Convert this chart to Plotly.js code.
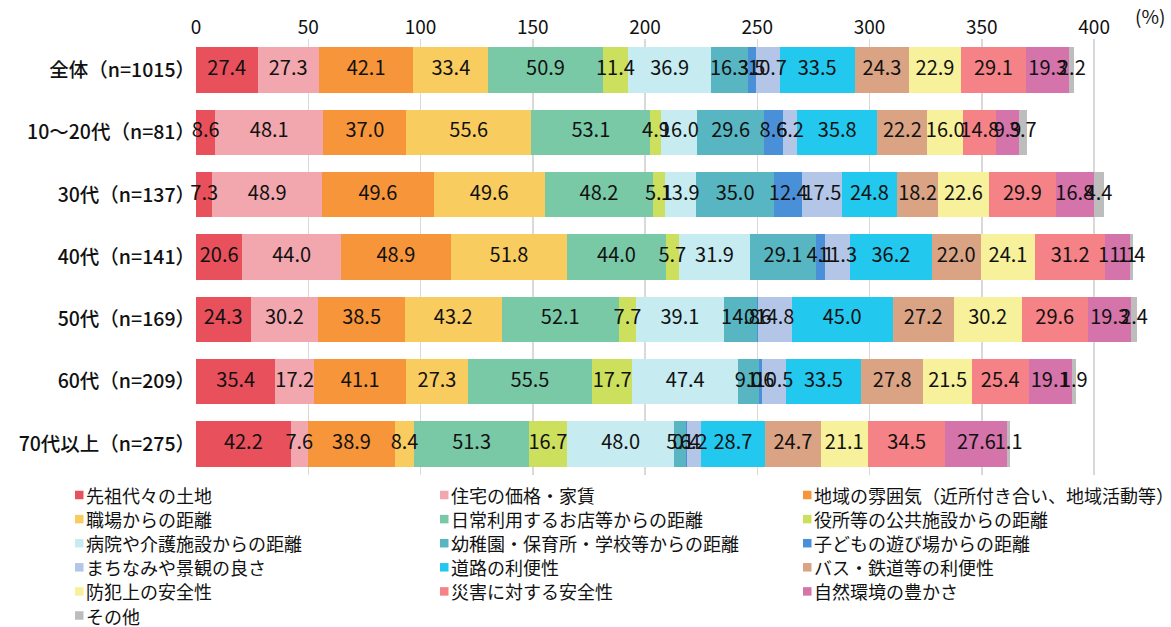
<!DOCTYPE html>
<html>
<head>
<meta charset="utf-8">
<script src="https://cdn.plot.ly/plotly-3.0.1.min.js"></script>
<style>html,body{margin:0;padding:0;background:#fff;}#chart{width:1171px;height:627px;}</style>
</head>
<body>
<div id="chart"></div>
<script>
const categories = ['全体（n=1015）','10～20代（n=81）','30代（n=137）','40代（n=141）','50代（n=169）','60代（n=209）','70代以上（n=275）'];
const seriesNames = ['先祖代々の土地','住宅の価格・家賃','地域の雰囲気（近所付き合い、地域活動等）','職場からの距離','日常利用するお店等からの距離','役所等の公共施設からの距離','病院や介護施設からの距離','幼稚園・保育所・学校等からの距離','子どもの遊び場からの距離','まちなみや景観の良さ','道路の利便性','バス・鉄道等の利便性','防犯上の安全性','災害に対する安全性','自然環境の豊かさ','その他'];
const v_sosen    = [27.4, 8.6, 7.3, 20.6, 24.3, 35.4, 42.2];
const v_jutaku   = [27.3, 48.1, 48.9, 44.0, 30.2, 17.2, 7.6];
const v_chiiki   = [42.1, 37.0, 49.6, 48.9, 38.5, 41.1, 38.9];
const v_shokuba  = [33.4, 55.6, 49.6, 51.8, 43.2, 27.3, 8.4];
const v_mise     = [50.9, 53.1, 48.2, 44.0, 52.1, 55.5, 51.3];
const v_yakusho  = [11.4, 4.9, 5.1, 5.7, 7.7, 17.7, 16.7];
const v_byoin    = [36.9, 16.0, 13.9, 31.9, 39.1, 47.4, 48.0];
const v_gakko    = [16.3, 29.6, 35.0, 29.1, 14.8, 9.0, 5.1];
const v_asobiba  = [3.5, 8.6, 12.4, 4.1, 0.6, 1.6, 0.4];
const v_machinami= [10.7, 6.2, 17.5, 11.3, 14.8, 10.5, 6.2];
const v_doro     = [33.5, 35.8, 24.8, 36.2, 45.0, 33.5, 28.7];
const v_bus      = [24.3, 22.2, 18.2, 22.0, 27.2, 27.8, 24.7];
const v_bohan    = [22.9, 16.0, 22.6, 24.1, 30.2, 21.5, 21.1];
const v_saigai   = [29.1, 14.8, 29.9, 31.2, 29.6, 25.4, 34.5];
const v_shizen   = [19.3, 9.9, 16.8, 11.1, 19.3, 19.1, 27.6];
const v_sonota   = [2.2, 3.7, 4.4, 1.4, 2.4, 1.9, 1.1];
const xTicks = [0, 50, 100, 150, 200, 250, 300, 350, 400];

const seriesValues = [v_sosen, v_jutaku, v_chiiki, v_shokuba, v_mise, v_yakusho, v_byoin, v_gakko, v_asobiba, v_machinami, v_doro, v_bus, v_bohan, v_saigai, v_shizen, v_sonota];
const colors = ['#E8505B','#F2A7AE','#F7953A','#F9CC60','#79C9A7','#CDE05E','#C6EBF0','#58B6C3','#4A90D9','#B4C6E7','#22C8EE','#D9A384','#F6F19A','#F58286','#D574AA','#BDBDBD'];

const FONT = '"Noto Sans CJK JP", "Noto Sans", sans-serif';
const W = 1171, H = 627;
const M = {l: 196, r: 32, t: 39, b: 152};
const PW = W - M.l - M.r, PH = H - M.t - M.b;
const px2x = px => (px - M.l) / PW;
const py2y = py => (M.t + PH - py) / PH;

const barTraces = seriesNames.map((name, i) => ({
  type: 'bar',
  orientation: 'h',
  name: name,
  y: categories,
  x: seriesValues[i],
  marker: {color: colors[i], line: {width: 0}},
  hoverinfo: 'none'
}));

// value labels drawn above all bars, centred in each stacked segment
const running = categories.map(() => 0);
const labelTraces = seriesValues.map((vals) => {
  const mids = vals.map((v, j) => { const m = running[j] + v / 2; running[j] += v; return m; });
  return {
    type: 'scatter',
    mode: 'text',
    x: mids,
    y: categories,
    text: vals.map(v => v.toFixed(1)),
    textposition: 'middle center',
    textfont: {family: FONT, size: 20, color: '#111'},
    showlegend: false,
    cliponaxis: false,
    hoverinfo: 'none'
  };
});

// legend: 3 columns, drawn as squares + text
const legendColX = [75, 440, 803];
const legendRowY0 = 495, legendRowStep = 24.1, legendSq = 8.5;
const legendShapes = [], legendAnns = [];
seriesNames.forEach((name, i) => {
  const col = i % 3, row = Math.floor(i / 3);
  const cx = legendColX[col], cy = legendRowY0 + row * legendRowStep;
  legendShapes.push({
    type: 'rect', xref: 'paper', yref: 'paper', layer: 'above',
    x0: px2x(cx), x1: px2x(cx + legendSq),
    y0: py2y(cy + legendSq / 2), y1: py2y(cy - legendSq / 2),
    fillcolor: colors[i], line: {width: 0}
  });
  legendAnns.push({
    xref: 'paper', yref: 'paper', x: px2x(cx + legendSq + 1), y: py2y(cy),
    xanchor: 'left', yanchor: 'middle', showarrow: false,
    text: name, borderpad: 0,
    font: {family: FONT, size: 18, color: '#111'}
  });
});

const layout = {
  width: W, height: H,
  margin: {l: M.l, r: M.r, t: M.t, b: M.b, autoexpand: false},
  barmode: 'stack',
  bargap: 0.27,
  paper_bgcolor: '#fff',
  plot_bgcolor: '#fff',
  font: {family: FONT, color: '#111'},
  showlegend: false,
  xaxis: {
    side: 'top',
    range: [0, 420],
    tickvals: xTicks,
    ticktext: xTicks.map(String),
    showgrid: true,
    gridcolor: '#D9D9D9',
    gridwidth: 1.5,
    zeroline: false,
    showline: false,
    ticks: '',
    tickfont: {family: FONT, size: 19, color: '#111'},
    fixedrange: true
  },
  yaxis: {
    type: 'category',
    categoryorder: 'array',
    categoryarray: categories,
    autorange: 'reversed',
    showgrid: false,
    zeroline: false,
    showline: false,
    ticks: '',
    ticklabelstandoff: 0,
    tickfont: {family: FONT, size: 19.5, color: '#111', weight: 500},
    fixedrange: true
  },
  shapes: legendShapes,
  annotations: legendAnns.concat([{
    xref: 'paper', yref: 'paper', x: 1.03, y: 1, xanchor: 'right', yanchor: 'bottom',
    yshift: 8,
    text: '(%)', showarrow: false,
    font: {family: FONT, size: 19, color: '#111'}
  }])
};

Plotly.newPlot('chart', barTraces.concat(labelTraces), layout, {displayModeBar: false, staticPlot: true});
</script>
</body>
</html>
